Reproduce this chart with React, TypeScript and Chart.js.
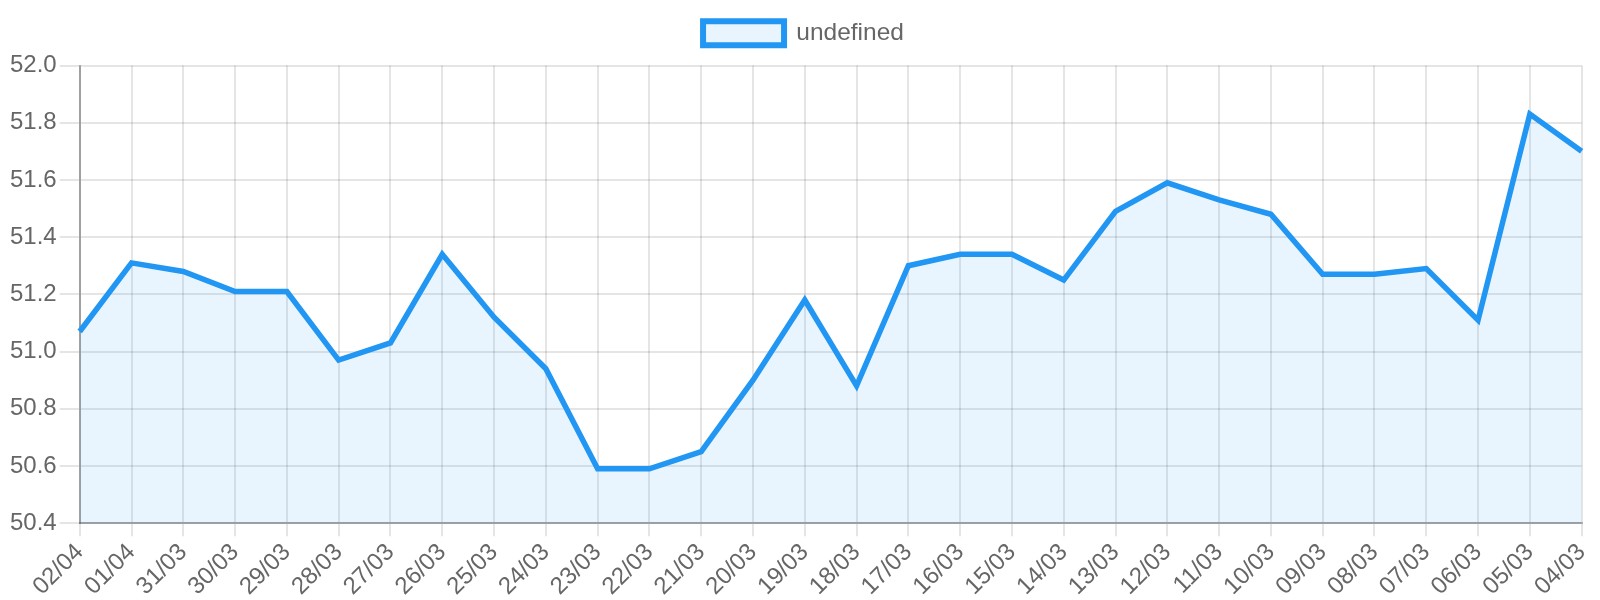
import React, { useEffect, useRef } from "react";
import { Chart, registerables } from "chart.js";

Chart.register(...registerables);

const labels = [
  "02/04", "01/04", "31/03", "30/03", "29/03", "28/03", "27/03", "26/03", "25/03", "24/03",
  "23/03", "22/03", "21/03", "20/03", "19/03", "18/03", "17/03", "16/03", "15/03", "14/03",
  "13/03", "12/03", "11/03", "10/03", "09/03", "08/03", "07/03", "06/03", "05/03", "04/03",
];

const values = [
  51.07, 51.31, 51.28, 51.21, 51.21, 50.97, 51.03, 51.34, 51.12, 50.94,
  50.59, 50.59, 50.65, 50.90, 51.18, 50.88, 51.30, 51.34, 51.34, 51.25,
  51.49, 51.59, 51.53, 51.48, 51.27, 51.27, 51.29, 51.11, 51.83, 51.70,
];

const yMin = 50.4;
const yMax = 52.0;
const yStep = 0.2;

const legendMargin = {
  id: "legendMargin",
  beforeInit(chart: any) {
    const legend = chart.legend;
    if (!legend) return;
    const origFit = legend.fit;
    legend.fit = function () {
      origFit.call(this);
      this.height += 10;
    };
  },
};

export default function App() {
  const ref = useRef<HTMLCanvasElement>(null);
  useEffect(() => {
    if (!ref.current) return;
    const font = { family: "'Liberation Sans', Arial, sans-serif", size: 24 };
    const chart = new Chart(ref.current, {
      type: "line",
      data: {
        labels,
        datasets: [
          {
            label: undefined as any,
            data: values,
            borderColor: "#2196F3",
            backgroundColor: "rgba(33,150,243,0.1)",
            borderWidth: 5.5,
            fill: true,
            tension: 0,
            pointRadius: 0,
            pointHoverRadius: 0,
          },
        ],
      },
      plugins: [legendMargin],
      options: {
        responsive: false,
        animation: false,
        maintainAspectRatio: false,
        layout: { padding: { top: 0, right: 0, bottom: -3, left: 7 } },
        plugins: {
          tooltip: { enabled: false },
          legend: {
            display: true,
            position: "top",
            labels: {
              color: "#666",
              font: { ...font, size: 24.5 },
              boxWidth: 81,
              boxHeight: 24,
              padding: 21,
              generateLabels: (c: any) => {
                const items = Chart.defaults.plugins.legend.labels.generateLabels(c);
                return items.map((it: any) => ({ ...it, text: "undefined", lineWidth: 6 }));
              },
            },
          },
        },
        scales: {
          x: {
            ticks: { color: "#666", font, maxRotation: 45, minRotation: 45, autoSkip: false, padding: 2 },
            grid: { color: "rgba(0,0,0,0.1)", lineWidth: 2, tickLength: 13 },
            border: { color: "rgba(0,0,0,0.3)", width: 2 },
            afterFit: (scale: any) => {
              scale.paddingRight = Math.max(0, scale.paddingRight - 4);
            },
          },
          y: {
            min: yMin,
            max: yMax,
            ticks: {
              color: "#666",
              font,
              stepSize: yStep,
              padding: 3,
              callback: (v: any) => Number(v).toFixed(1),
            },
            grid: { color: "rgba(0,0,0,0.1)", lineWidth: 2, tickLength: 20 },
            border: { color: "rgba(0,0,0,0.3)", width: 2 },
          },
        },
      },
    });
    return () => chart.destroy();
  }, []);
  return (
    <div style={{ position: "absolute", left: 0, top: 0, width: 1600, height: 600 }}>
      <canvas ref={ref} width={1600} height={600} style={{ width: 1600, height: 600 }} />
    </div>
  );
}
